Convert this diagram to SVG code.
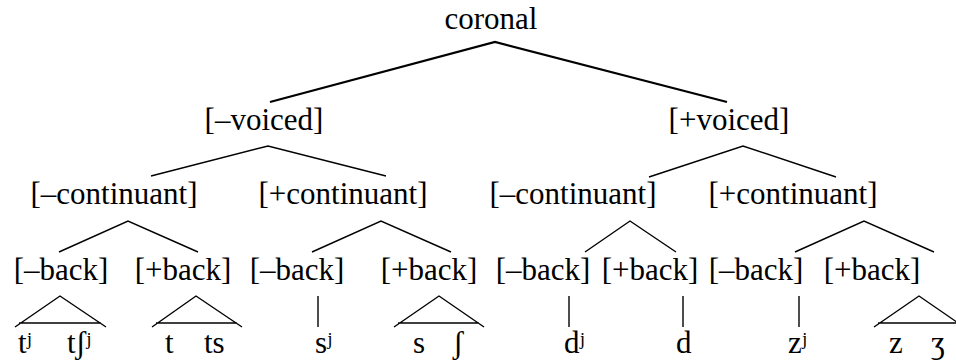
<svg xmlns="http://www.w3.org/2000/svg" width="956" height="364" viewBox="0 0 956 364">
<style>
text{font-family:"Times New Roman",Times,"Liberation Serif",Tinos,"Noto Serif","DejaVu Serif",serif;font-size:31px;fill:#000}
.c{text-anchor:middle}
.e{fill:none;stroke:#000;stroke-width:1.4}
.t{fill:none;stroke:#000;stroke-width:2.2}
</style>
<rect width="956" height="364" fill="#fff"/>
<g id="connectors">
<path class="t" d="M270,102 L495,42 L727,102"/>
<path class="e" d="M151,176 L268,146 L386,176"/>
<path class="e" d="M649,177 L743,146 L836,177"/>
<path class="e" d="M59,252 L128,221 L198,252"/>
<path class="e" d="M312,252 L381,221 L451,252"/>
<path class="e" d="M585,252 L630,221 L676,252"/>
<path class="e" d="M795,252 L864,221 L934,252"/>
<path class="e" d="M15,327 L60,296 L106,327 M19,323 H101"/>
<path class="e" d="M152,327 L196,296 L242,327 M156,323 H237"/>
<path class="e" d="M318,296 V327"/>
<path class="e" d="M394,327 L439,296 L484,327 M398,323 H479"/>
<path class="e" d="M569,296 V327"/>
<path class="e" d="M683,296 V327"/>
<path class="e" d="M799,296 V327"/>
<path class="e" d="M874,327 L919,296 L964,327 M878,323 H960"/>
</g>
<g id="coronal"><text class="c" x="491" y="29">coronal</text></g>
<g id="minus-voiced"><text class="c" x="264" y="130">[–voiced]</text></g>
<g id="plus-voiced"><text class="c" x="729" y="130">[+voiced]</text></g>
<g id="vl-minus-cont"><text class="c" x="114" y="204">[–continuant]</text></g>
<g id="vl-plus-cont"><text class="c" x="343" y="204">[+continuant]</text></g>
<g id="vd-minus-cont"><text class="c" x="573" y="204">[–continuant]</text></g>
<g id="vd-plus-cont"><text class="c" x="793" y="204">[+continuant]</text></g>
<g id="back1"><text class="c" x="61" y="280">[–back]</text></g>
<g id="back2"><text class="c" x="183" y="280">[+back]</text></g>
<g id="back3"><text class="c" x="297" y="280">[–back]</text></g>
<g id="back4"><text class="c" x="429" y="280">[+back]</text></g>
<g id="back5"><text class="c" x="543" y="280">[–back]</text></g>
<g id="back6"><text class="c" x="650" y="280">[+back]</text></g>
<g id="back7"><text class="c" x="756" y="280">[–back]</text></g>
<g id="back8"><text class="c" x="872" y="280">[+back]</text></g>
<g id="leaf-tj"><text x="18" y="353">tʲ</text></g>
<g id="leaf-tshj"><text x="67" y="353">tʃʲ</text></g>
<g id="leaf-t"><text x="165" y="353">t</text></g>
<g id="leaf-ts"><text x="204" y="353">ts</text></g>
<g id="leaf-sj"><text x="315" y="353">sʲ</text></g>
<g id="leaf-s"><text x="413" y="353">s</text></g>
<g id="leaf-sh"><text x="453" y="353">ʃ</text></g>
<g id="leaf-dj"><text x="564" y="353">dʲ</text></g>
<g id="leaf-d"><text x="676" y="353">d</text></g>
<g id="leaf-zj"><text x="788" y="353">zʲ</text></g>
<g id="leaf-z"><text x="889" y="353">z</text></g>
<g id="leaf-zh"><text x="931" y="353">ʒ</text></g>
</svg>
